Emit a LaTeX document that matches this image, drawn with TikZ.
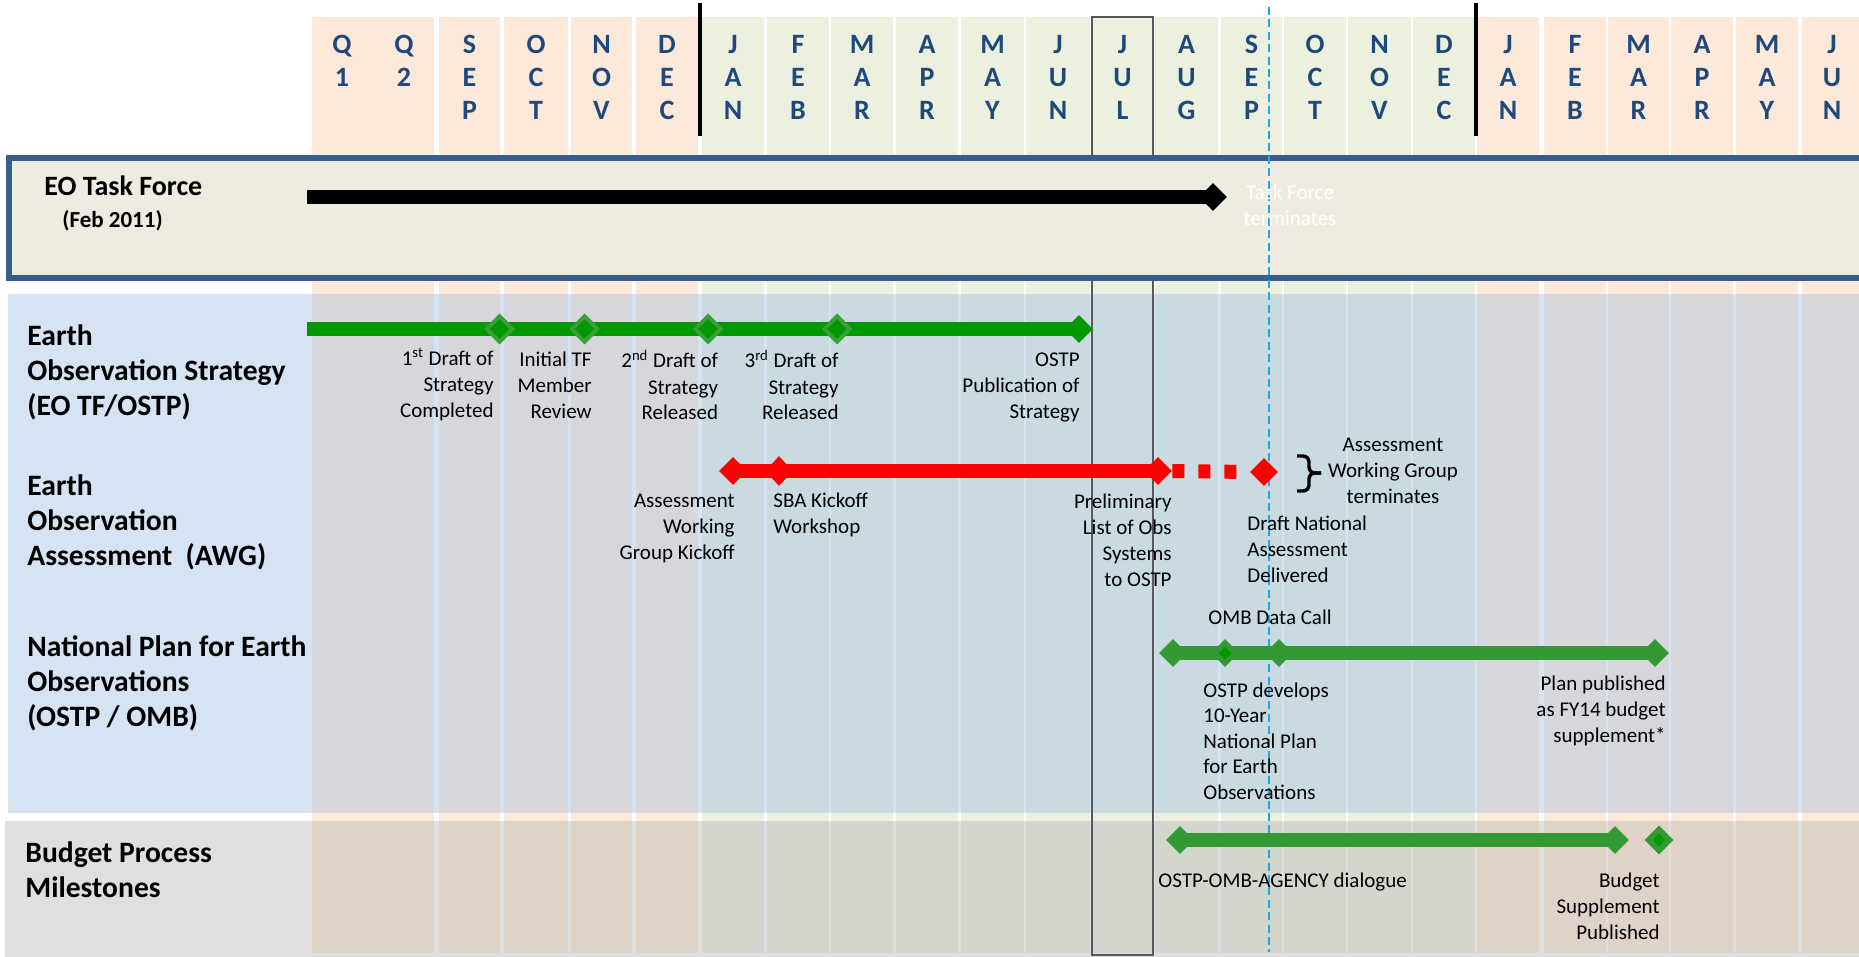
\documentclass[tikz,border=0pt]{standalone}
\usepackage{fontspec}
\setmainfont{Carlito}
\usetikzlibrary{shapes.geometric}
\definecolor{hdrblue}{HTML}{1F497D}
\definecolor{colorange}{HTML}{FDE9D9}
\definecolor{colgreen}{HTML}{EBF1DE}
\definecolor{tffill}{HTML}{EEECE1}
\definecolor{tfborder}{HTML}{385D8A}
\definecolor{sblabel}{HTML}{D6E3F3}
\definecolor{sbor}{HTML}{D6D7DD}
\definecolor{sbgr}{HTML}{C9DBE0}
\definecolor{bblabel}{HTML}{DFDFDF}
\definecolor{bbor}{HTML}{DFD3C8}
\definecolor{bbgr}{HTML}{D3D6CC}
\definecolor{stgreen}{HTML}{009900}
\definecolor{npgreen}{HTML}{339933}
\definecolor{msoutline}{HTML}{3A9E3A}
\definecolor{todayblue}{HTML}{1FA9E1}
\definecolor{julgrey}{HTML}{595959}
\def\orangecols{312/434, 439/500, 504/568, 571/632, 636/698, 1477/1539, 1544/1606, 1608/1669, 1671/1733, 1736/1798, 1802/1875}
\def\greencols{702/764, 767/829, 831/893, 896/958, 961/1024, 1026/1090, 1092/1153, 1155/1218, 1221/1282, 1284/1346, 1348/1411, 1413/1475}
\begin{document}
\begin{tikzpicture}[x=0.5pt,y=-0.5pt,
  hdr/.style={font=\bfseries\fontsize{14}{16}\selectfont, text=hdrblue, anchor=base, inner sep=0pt},
  bandlbl/.style={font=\bfseries\fontsize{14.8}{17.5}\selectfont, align=left, anchor=west, inner sep=0pt},
  ms/.style={font=\fontsize{10.5}{13}\selectfont, inner sep=0pt},
  bar/.style={line width=7pt},
  enddia/.style={diamond, draw=none, inner sep=0pt, minimum width=14pt, minimum height=14pt},
  msdia/.style={diamond, inner sep=0pt, minimum width=13.5pt, minimum height=13.5pt, fill=stgreen, draw=msoutline, line width=2pt},
  innerdia/.style={diamond, draw=none, inner sep=0pt, minimum width=6.5pt, minimum height=6.5pt, fill=stgreen}]
\useasboundingbox (0,0) rectangle (1859,957);
\clip (0,0) rectangle (1859,957);
% month columns
\foreach \l/\r in \orangecols {\fill[colorange] (\l,17) rectangle (\r,953);}
\foreach \l/\r in \greencols {\fill[colgreen] (\l,17) rectangle (\r,953);}
% strategy / assessment / plan band
\fill[sblabel] (8,294) rectangle (1875,813);
\foreach \l/\r in \orangecols {\fill[sbor] (\l,294) rectangle (\r,813);}
\foreach \l/\r in \greencols {\fill[sbgr] (\l,294) rectangle (\r,813);}
% budget band
\fill[bblabel] (5,821) rectangle (1875,957);
\foreach \l/\r in \orangecols {\fill[bbor] (\l,821) rectangle (\r,953);}
\foreach \l/\r in \greencols {\fill[bbgr] (\l,821) rectangle (\r,953);}
% JUL frame
\draw[julgrey, line width=0.8pt] (1092,17) rectangle (1153,955);
% year separators
\draw[line width=1.6pt] (700,3) -- (700,136);
\draw[line width=1.6pt] (1476,3) -- (1476,136);
% Task force box
\draw[fill=tffill, draw=tfborder, line width=2.8pt] (9,158) rectangle (1880,278);
% today line
\draw[todayblue, line width=1pt, dash pattern=on 4pt off 2.2pt] (1269,7) -- (1269,952);
% header letters
\node[hdr] (qa1) at (342,53.5) {Q};
\node[hdr] (qa2) at (342,87) {1};
\node[hdr] (qb1) at (404,53.5) {Q};
\node[hdr] (qb2) at (404,87) {2};
\foreach \x/\a/\b/\c [count=\i] in {469.5/S/E/P, 536/O/C/T, 601.5/N/O/V, 667/D/E/C, 733/J/A/N, 798/F/E/B, 862/M/A/R, 927/A/P/R, 992.5/M/A/Y, 1058/J/U/N, 1122.5/J/U/L, 1186.5/A/U/G, 1251.5/S/E/P, 1315/O/C/T, 1379.5/N/O/V, 1444/D/E/C, 1508/J/A/N, 1575/F/E/B, 1638.5/M/A/R, 1702/A/P/R, 1767/M/A/Y, 1832/J/U/N}
{
  \node[hdr] (h\i-1) at (\x,53.5) {\a};
  \node[hdr] (h\i-2) at (\x,87) {\b};
  \node[hdr] (h\i-3) at (\x,120) {\c};
}
% band labels
\node[font=\bfseries\fontsize{14}{17}\selectfont, anchor=west, inner sep=0pt] (tflbl) at (44,186) {EO Task Force};
\node[font=\bfseries\fontsize{11.5}{14}\selectfont, anchor=west, inner sep=0pt] (tfdate) at (62,221) {(Feb 2011)};
\node[bandlbl] (lstrat) at (27,372) {Earth\\Observation Strategy\\(EO TF/OSTP)};
\node[bandlbl] (lawg) at (27,522.5) {Earth\\Observation\\Assessment\ \ (AWG)};
\node[bandlbl] (lplan) at (27,683) {National Plan for Earth\\Observations\\(OSTP / OMB)};
\node[bandlbl] (lbud) at (25,870) {Budget Process\\Milestones};
% Task force bar
\coordinate (tfs) at (307,197);
\node[enddia, fill=black] (tfe) at (1213,197) {};
\draw[bar, black] (tfs) -- (tfe.center);
\node[ms, text=white, align=center] (tfterm) at (1290,205) {Task Force\\terminates};
% Strategy bar
\coordinate (ss) at (307,329);
\node[enddia, fill=stgreen] (se) at (1079,329) {};
\draw[bar, stgreen] (ss) -- (se.center);
\node[msdia] (m1) at (499.5,329) {};
\node[msdia] (m2) at (584.5,329) {};
\node[msdia] (m3) at (708,329) {};
\node[msdia] (m4) at (837,329) {};
\node[ms, align=right, anchor=east] (t1) at (494,385) {1\textsuperscript{st} Draft of\\Strategy\\Completed};
\node[ms, align=right, anchor=east] (t2) at (592,385) {Initial TF\\Member\\Review};
\node[ms, align=right, anchor=east] (t3) at (718.5,385) {2\textsuperscript{nd} Draft of\\Strategy\\Released};
\node[ms, align=right, anchor=east] (t4) at (839,385) {3\textsuperscript{rd} Draft of\\Strategy\\Released};
\node[ms, align=right, anchor=east] (t5) at (1080,387) {OSTP\\Publication of\\Strategy};
% Assessment bar
\node[enddia, fill=red] (r0) at (733,471) {};
\node[enddia, fill=red, minimum height=15pt] (r1) at (779,471) {};
\node[enddia, fill=red] (r2) at (1158,471) {};
\node[enddia, fill=red] (r3) at (1264,472) {};
\coordinate (rdend) at (1247,472);
\draw[bar, red] (r0.center) -- (r2.center);
\draw[bar, red, dash pattern=on 6pt off 7pt] (r2.east) -- (rdend);
\draw[line width=1.7pt, rounded corners=3pt] (1297,456) -- (1309,456) -- (1309,473) -- (1321,473);
\draw[line width=1.7pt, rounded corners=3pt] (1321,473) -- (1309,473) -- (1309,491) -- (1297,491);
\node[ms, align=right, anchor=east] (t6) at (735,528) {Assessment\\Working\\Group Kickoff};
\node[ms, align=left, anchor=west] (t7) at (773,515) {SBA Kickoff\\Workshop};
\node[ms, align=right, anchor=east] (t8) at (1172,540) {Preliminary\\List of Obs\\Systems\\to OSTP};
\node[ms, align=left, anchor=west] (t9) at (1247,549) {Draft National\\Assessment\\Delivered};
\node[ms, align=center] (t10) at (1393,471) {Assessment\\Working Group\\terminates};
% National plan bar
\node[enddia, fill=npgreen] (n0) at (1173,653) {};
\node[enddia, fill=npgreen] (n1) at (1225,653) {};
\node[enddia, fill=npgreen] (n2) at (1279,653) {};
\node[enddia, fill=npgreen] (n3) at (1655,653) {};
\draw[bar, npgreen] (n0.center) -- (n3.center);
\node[innerdia] (n1i) at (1225,653) {};
\node[ms, anchor=west] (t11) at (1208,617) {OMB Data Call};
\node[ms, align=left, anchor=west, font=\fontsize{10.5}{12.75}\selectfont] (t12) at (1203,741) {OSTP develops\\10-Year\\National Plan\\for Earth\\Observations};
\node[ms, align=right, anchor=east] (t13) at (1666,711) {Plan published\\as FY14 budget\\supplement*};
% Budget bar
\node[enddia, fill=npgreen] (b0) at (1180,840) {};
\node[enddia, fill=npgreen] (b1) at (1615,840) {};
\draw[bar, npgreen] (b0.center) -- (b1.center);
\node[enddia, fill=npgreen, minimum width=14.5pt, minimum height=14.5pt] (b2) at (1659,840) {};
\node[innerdia] (b2i) at (1659,840) {};
\node[ms, anchor=west] (t14) at (1158,882) {OSTP-OMB-AGENCY dialogue};
\node[ms, align=right, anchor=east] (t15) at (1660,906) {Budget\\Supplement\\Published};
\end{tikzpicture}
\end{document}
